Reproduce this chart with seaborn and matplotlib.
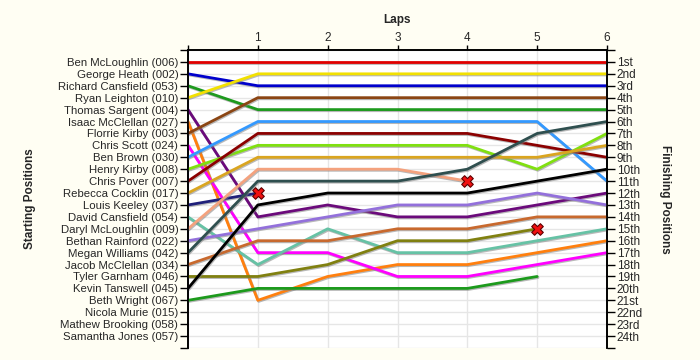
import pandas as pd
import seaborn as sns
import matplotlib
matplotlib.use('Agg')
import matplotlib.pyplot as plt
import matplotlib.patheffects as pe

# Starting grid, top to bottom
starters = ['Ben McLoughlin (006)', 'George Heath (002)', 'Richard Cansfield (053)',
            'Ryan Leighton (010)', 'Thomas Sargent (004)', 'Isaac McClellan (027)',
            'Florrie Kirby (003)', 'Chris Scott (024)', 'Ben Brown (030)',
            'Henry Kirby (008)', 'Chris Pover (007)', 'Rebecca Cocklin (017)',
            'Louis Keeley (037)', 'David Cansfield (054)', 'Daryl McLoughlin (009)',
            'Bethan Rainford (022)', 'Megan Williams (042)', 'Jacob McClellan (034)',
            'Tyler Garnham (046)', 'Kevin Tanswell (045)', 'Beth Wright (067)',
            'Nicola Murie (015)', 'Mathew Brooking (058)', 'Samantha Jones (057)']

finish_labels = ['1st', '2nd', '3rd', '4th', '5th', '6th', '7th', '8th', '9th', '10th',
                 '11th', '12th', '13th', '14th', '15th', '16th', '17th', '18th', '19th',
                 '20th', '21st', '22nd', '23rd', '24th']

laps = [0, 1, 2, 3, 4, 5, 6]

# position at lap 0..n for each starter (shorter list = did not finish)
lap_positions = [
    [1, 1, 1, 1, 1, 1, 1],
    [2, 3, 3, 3, 3, 3, 3],
    [3, 5, 5, 5, 5, 5, 5],
    [4, 2, 2, 2, 2, 2, 2],
    [5, 14, 13, 14, 14, 13, 12],
    [6, 21, 19, 18, 18, 17, 16],
    [7, 4, 4, 4, 4, 4, 4],
    [8, 17, 17, 19, 19, 18, 17],
    [9, 6, 6, 6, 6, 6, 11],
    [10, 8, 8, 8, 8, 10, 7],
    [11, 7, 7, 7, 7, 8, 9],
    [12, 9, 9, 9, 9, 9, 8],
    [13, 12],
    [14, 18, 15, 17, 17, 16, 15],
    [15, 10, 10, 10, 11],
    [16, 15, 14, 13, 13, 12, 13],
    [17, 11, 11, 11, 10, 7, 6],
    [18, 16, 16, 15, 15, 14, 14],
    [19, 19, 18, 16, 16, 15],
    [20, 13, 12, 12, 12, 11, 10],
    [21, 20, 20, 20, 20, 19],
    [], [], [],
]

retired = [False] * 12 + [True, False, True, False, False, False, True, False, False] + [False] * 3

colours = ['#E00000', '#0000CC', '#1E9A1E', '#F2E000', '#6B0A7B', '#FF7F0E',
           '#8B4513', '#FF00FF', '#3399FF', '#80E010', '#8B0000', '#DAA520',
           '#20207A', '#66C2A5', '#F4A27E', '#9370DB', '#2F4F4F', '#C8692E',
           '#808010', '#000000', '#1C9A1C', '#999999', '#999999', '#999999']

rows = []
for name, pos in zip(starters, lap_positions):
    for lap, p in zip(laps, pos):
        rows.append((name, lap, p))
df = pd.DataFrame(rows, columns=['Driver', 'Lap', 'Position'])

out_rows = [(n, len(p) - 1, p[-1]) for n, p, r in zip(starters, lap_positions, retired) if r]
out_df = pd.DataFrame(out_rows, columns=['Driver', 'Lap', 'Position'])

sns.set_theme(style='white')
plt.rcParams['font.family'] = ['Liberation Sans', 'DejaVu Sans']

bg = '#FFFEF3'
fig = plt.figure(figsize=(7, 3.6), dpi=100, facecolor=bg)
ax = fig.add_axes([188 / 700, 1 - 348 / 360, (607 - 188) / 700, (348 - 50) / 360])
ax.set_facecolor('white')

palette = dict(zip(starters, colours))
sns.lineplot(data=df, x='Lap', y='Position', hue='Driver', palette=palette,
             estimator=None, sort=False, legend=False, lw=2, ax=ax, zorder=3)
for line in ax.lines:
    line.set_path_effects([pe.SimpleLineShadow(offset=(0.6, -0.8), shadow_color='#808080', alpha=0.55),
                           pe.Normal()])

sns.scatterplot(data=out_df, x='Lap', y='Position', marker='X', s=70, color='#F01010',
                edgecolor='#600000', linewidth=0.8, legend=False, ax=ax, zorder=5)

ax.set_xlim(0, 6)
ax.set_ylim(25, 0)
ax.grid(True, color='#E6E6E6', lw=1)
ax.set_axisbelow(True)

ax.xaxis.tick_top()
ax.xaxis.set_label_position('top')
ax.set_xticks(laps)
ax.set_xticklabels([''] + [str(l) for l in laps[1:]])
ax.set_xlabel('Laps', fontsize=8.5, fontweight='bold', labelpad=7)
ax.set_ylabel('')

ax.set_yticks(range(0, 26))
ax.set_yticklabels([''] + starters + [''])
ax.tick_params(axis='y', left=True, length=6, width=1, color='black', labelsize=8.2, pad=1)
ax.tick_params(axis='x', top=True, length=3.5, width=1, color='black', labelsize=8.5, pad=0.5)

ax2 = ax.twinx()
ax2.set_ylim(25, 0)
ax2.set_yticks(range(0, 26))
ax2.set_yticklabels([''] + finish_labels + [''])
ax2.tick_params(axis='y', right=True, length=6, width=1, color='black', labelsize=8.5, pad=1)
ax2.grid(False)

for a in (ax, ax2):
    a.spines['bottom'].set_visible(False)
    for s in ('top', 'left', 'right'):
        a.spines[s].set_color('black')
        a.spines[s].set_linewidth(1.2)

fig.text(30 / 700, 1 - 199 / 360, 'Starting Positions', rotation=90, ha='center', va='center',
         fontsize=8.5, fontweight='bold')
fig.text(665 / 700, 1 - 199 / 360, 'Finishing Positions', rotation=-90, ha='center', va='center',
         fontsize=8.5, fontweight='bold')

fig.savefig('out.png', dpi=100, facecolor=bg)
